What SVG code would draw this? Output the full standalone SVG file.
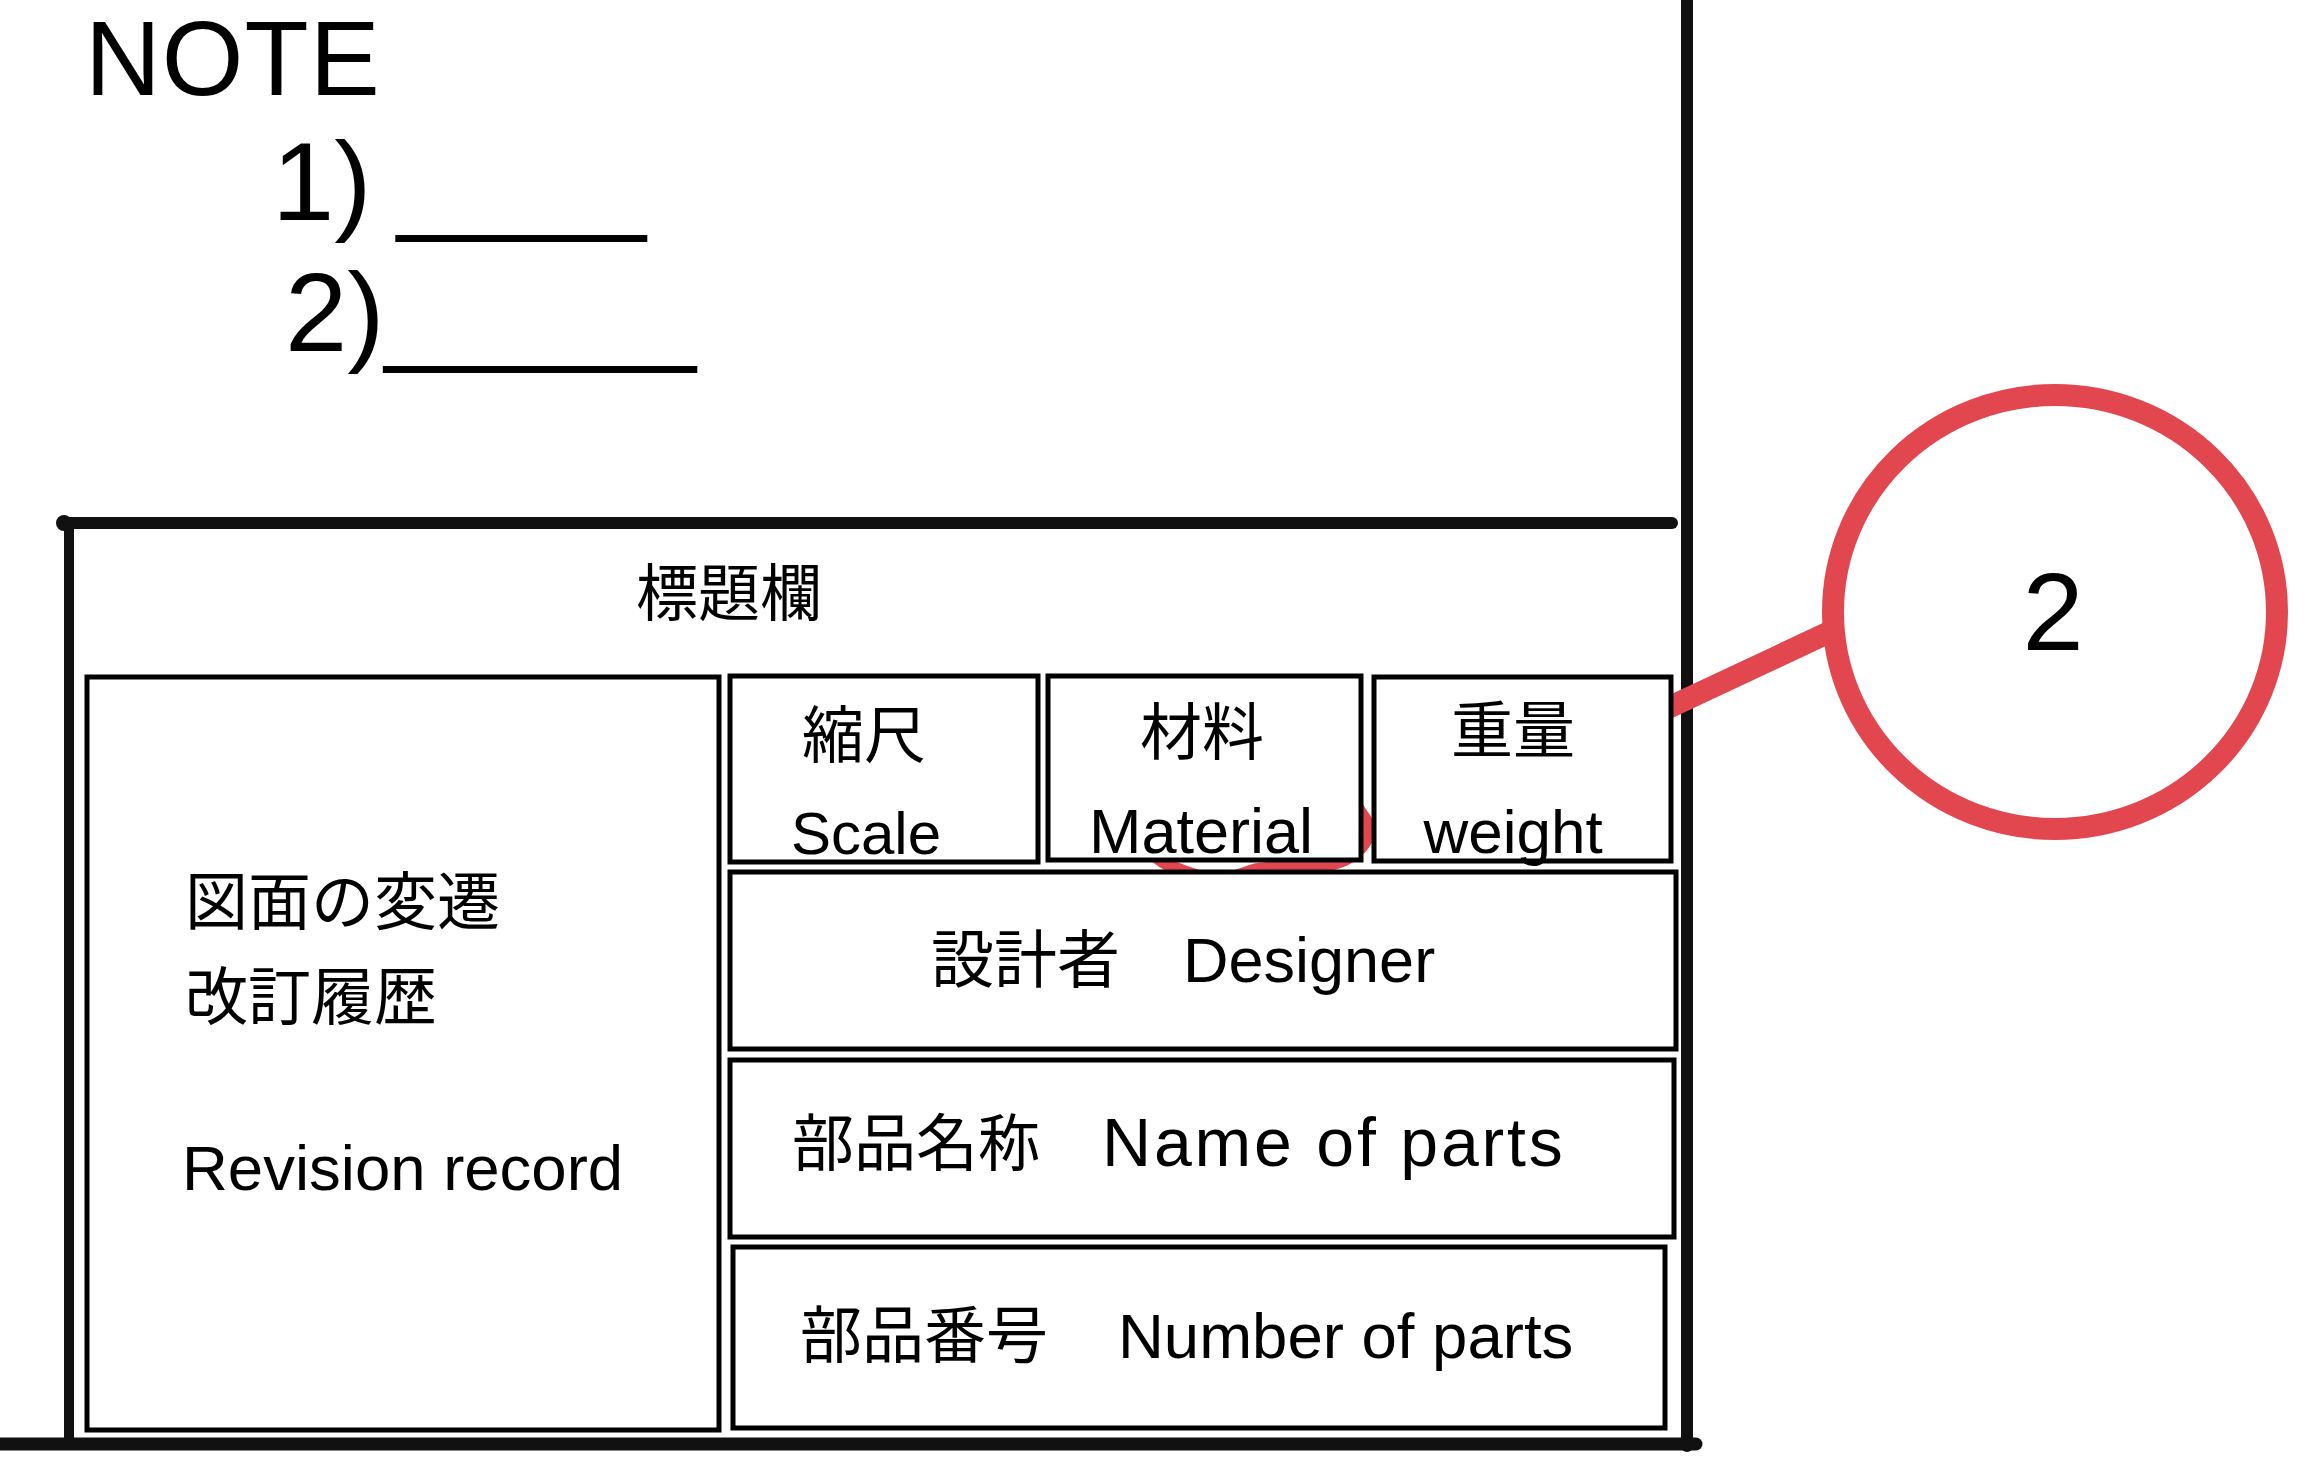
<svg xmlns="http://www.w3.org/2000/svg" width="2310" height="1472" viewBox="0 0 2310 1472">
<style>
  .t{font-family:'Liberation Sans','Noto Sans CJK JP',sans-serif;fill:#000}
  .j{font-family:'Noto Sans CJK JP','Liberation Sans',sans-serif;fill:#000}
  .frame{stroke:#111;fill:none}
  .box{fill:#fff;stroke:#000;stroke-width:5}
  .red{stroke:#E2474F;fill:none}
</style>
<rect width="2310" height="1472" fill="#fff"/>

<g id="note">
  <text class="t" x="85" y="95" font-size="105" letter-spacing="1">NOTE</text>
  <text class="t" x="272" y="220" font-size="112">1) <tspan x="397">____</tspan></text>
  <text class="t" x="285" y="351" font-size="112">2)_____</text>
</g>

<g id="frame" class="frame">
  <line x1="1687" y1="0" x2="1687" y2="1446" stroke-width="12" stroke-linecap="round"/>
  <line x1="64" y1="523" x2="1672" y2="523" stroke-width="12" stroke-linecap="round"/>
  <line x1="69" y1="523" x2="69" y2="1444" stroke-width="10"/>
  <line x1="0" y1="1444" x2="1696" y2="1444" stroke-width="13" stroke-linecap="round"/>
  <circle cx="64" cy="523" r="8" fill="#111" stroke="none"/>
</g>

<g id="title-label">
  <text class="j" x="636" y="616" font-size="62">標題欄</text>
</g>

<g id="connectors">
  <line class="red" x1="1640" y1="721" x2="1836" y2="629" stroke-width="22"/>
</g>

<g id="hidden-mark">
  <path class="red" stroke-width="13" stroke-linejoin="round" d="M1150 850 C1160 864 1185 873 1205 878 C1225 884 1240 874 1255 870 C1280 866 1310 867 1335 863 C1352 858 1362 848 1367 838 C1370 830 1368 822 1362 815 C1345 790 1320 730 1250 718 C1190 712 1148 750 1145 790 C1143 815 1144 838 1150 850 Z"/>
</g>

<g id="revision">
  <rect class="box" x="87" y="677" width="632" height="753" stroke-width="7"/>
  <text class="j" x="185" y="924" font-size="63">図面の変遷</text>
  <text class="j" x="185" y="1019" font-size="63">改訂履歴</text>
  <text class="t" x="182" y="1190" font-size="63.5">Revision record</text>
</g>

<g id="scale">
  <rect class="box" x="730" y="676" width="308" height="186"/>
  <text class="j" x="864" y="758" font-size="62" text-anchor="middle">縮尺</text>
  <text class="t" x="866" y="854" font-size="60" text-anchor="middle">Scale</text>
</g>

<g id="material">
  <rect class="box" x="1048" y="676" width="313" height="184"/>
  <text class="j" x="1202" y="755" font-size="62" text-anchor="middle">材料</text>
  <text class="t" x="1201" y="853" font-size="63" text-anchor="middle">Material</text>
</g>

<g id="weight">
  <rect class="box" x="1374" y="677" width="297" height="184"/>
  <text class="j" x="1513" y="753" font-size="62" text-anchor="middle">重量</text>
  <text class="t" x="1513" y="853" font-size="62" text-anchor="middle">weight</text>
</g>

<g id="designer">
  <rect class="box" x="730" y="872" width="946" height="177"/>
  <text class="t" x="931" y="982" font-size="63">設計者　Designer</text>
</g>

<g id="name-of-parts">
  <rect class="box" x="730" y="1060" width="944" height="177"/>
  <text class="t" x="792" y="1166"><tspan font-size="62">部品名称　</tspan><tspan font-size="68" letter-spacing="2.8">Name of parts</tspan></text>
</g>

<g id="number-of-parts">
  <rect class="box" x="733" y="1247" width="932" height="181"/>
  <text class="t" x="800" y="1358" font-size="62"><tspan>部品番号　</tspan><tspan dx="8" font-size="63.5">Number of parts</tspan></text>
</g>

<g id="callout-2">
  <ellipse class="red" cx="2055" cy="612" rx="222" ry="217" stroke-width="22"/>
  <text class="t" x="2053" y="650" font-size="110" text-anchor="middle">2</text>
</g>
</svg>
